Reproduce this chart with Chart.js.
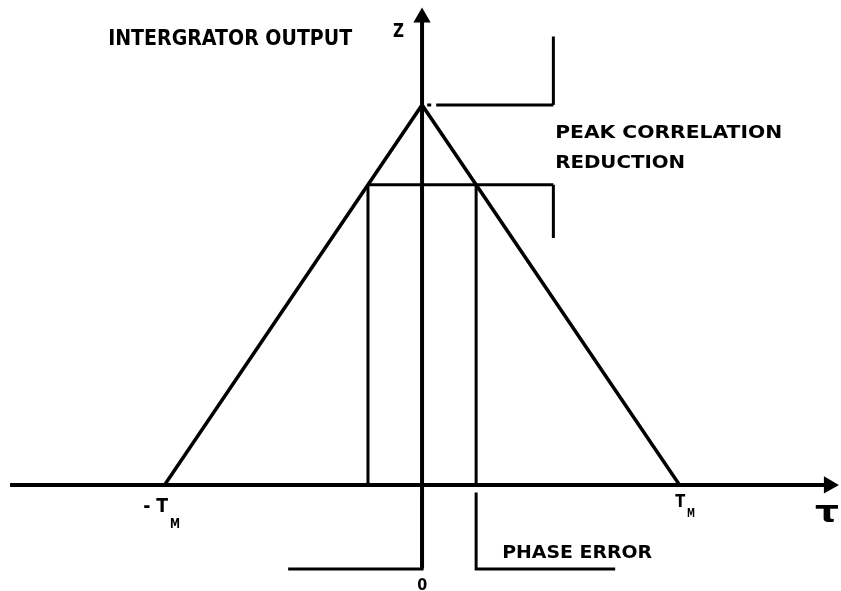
<!DOCTYPE html>
<html>
<head>
<meta charset="utf-8">
<script src="https://cdn.jsdelivr.net/npm/chart.js@4/dist/chart.umd.min.js"></script>
<style>
  body { margin: 0; background: #fff; }
  canvas { display: block; }
</style>
</head>
<body>
<canvas id="corrChart" width="841" height="591"></canvas>
<script>
//==================================== Data (tau in units of T_M, Z normalised to peak) ====================

// correlation triangle
var triangleTau = [-1, 0, 1];
var triangleZ = [0, 1, 0];

// axes
var tauAxisTau = [-1.6, 1.58];
var tauAxisZ = [0, 0];
var zAxisTau = [0, 0];
var zAxisZ = [-0.22, 1.23];

// phase error window and reduced peak
var leftErrTau = [-0.21, -0.21];
var leftErrZ = [0, 0.79];
var rightErrTau = [0.21, 0.21];
var rightErrZ = [0, 0.79];
var reducedTau = [-0.21, 0.51];
var reducedZ = [0.79, 0.79];
var peakTau = [0.02, 0.51];
var peakZ = [1, 1];

// dimension brackets
var upperBracketTau = [0.51, 0.51];
var upperBracketZ = [1, 1.18];
var lowerBracketTau = [0.51, 0.51];
var lowerBracketZ = [0.79, 0.65];
var zeroDimTau = [-0.52, 0, 0];
var zeroDimZ = [-0.221, -0.221, -0.02];
var errDimTau = [0.21, 0.21, 0.75];
var errDimZ = [-0.02, -0.221, -0.221];

// labels (anchor in data units, fit width and font size in px)
var labelText = ['INTERGRATOR OUTPUT', 'Z', 'PEAK CORRELATION', 'REDUCTION', 'PHASE ERROR', '0', '- T', 'M', 'T', 'M', '\u03C4'];
var labelTau = [-1.219, -0.113, 0.517, 0.517, 0.311, -0.019, -1.083, -0.979, 0.983, 1.029, 1.526];
var labelZ = [1.158, 1.179, 0.913, 0.834, -0.192, -0.276, -0.071, -0.113, -0.058, -0.084, -0.097];
var labelWidth = [244, 11, 227, 130, 150, 10, 25, 10, 10, 8, 24];
var labelSize = [22, 19, 18, 18, 18, 16, 20, 14, 17, 12, 30];

//==================================== Chart ==============================================================

function pts(xs, ys) {
    return xs.map(function(v, i) {
        return { x: v, y: ys[i] };
    });
}

function seg(xs, ys, extra) {
    var ds = {
        data: pts(xs, ys),
        showLine: true,
        borderColor: '#000',
        backgroundColor: '#000',
        borderWidth: 3,
        pointRadius: 0,
        fill: false,
        tension: 0,
        clip: false
    };
    for (var k in extra) ds[k] = extra[k];
    return ds;
}

var labelPlugin = {
    id: 'labels',
    afterDraw: function(chart) {
        var ctx = chart.ctx;
        var sx = chart.scales.x, sy = chart.scales.y;
        ctx.save();
        ctx.fillStyle = '#000';
        ctx.textBaseline = 'alphabetic';
        for (var i in labelText) {
            ctx.font = 'bold ' + labelSize[i] + 'px "DejaVu Sans"';
            var m = ctx.measureText(labelText[i]).width;
            ctx.save();
            ctx.translate(sx.getPixelForValue(labelTau[i]), sy.getPixelForValue(labelZ[i]));
            ctx.scale(labelWidth[i] / m, 1);
            ctx.fillText(labelText[i], 0, 0);
            ctx.restore();
        }
        ctx.restore();
    }
};

var chrt = document.getElementById('corrChart').getContext('2d');
var config = {
    type: 'scatter',
    data: {
        datasets: [
            seg(tauAxisTau, tauAxisZ, { borderWidth: 4, pointRadius: [0, 6], pointStyle: 'triangle', rotation: [0, 90] }),
            seg(zAxisTau, zAxisZ, { borderWidth: 4, pointRadius: [0, 6], pointStyle: 'triangle', rotation: 0 }),
            seg(triangleTau, triangleZ, { borderWidth: 3.5 }),
            seg(leftErrTau, leftErrZ),
            seg(rightErrTau, rightErrZ),
            seg(reducedTau, reducedZ),
            seg(peakTau, peakZ, { borderDash: [4, 5, 200, 0] }),
            seg(upperBracketTau, upperBracketZ),
            seg(lowerBracketTau, lowerBracketZ),
            seg(zeroDimTau, zeroDimZ),
            seg(errDimTau, errDimZ)
        ]
    },
    options: {
        responsive: false,
        animation: false,
        events: [],
        layout: { padding: 0, autoPadding: false },
        plugins: {
            legend: { display: false },
            tooltip: { enabled: false }
        },
        scales: {
            x: { type: 'linear', display: false, min: -1.639, max: 1.627 },
            y: { type: 'linear', display: false, min: -0.279, max: 1.276 }
        }
    },
    plugins: [labelPlugin]
};

var corrChart = new Chart(chrt, config);
</script>
</body>
</html>
